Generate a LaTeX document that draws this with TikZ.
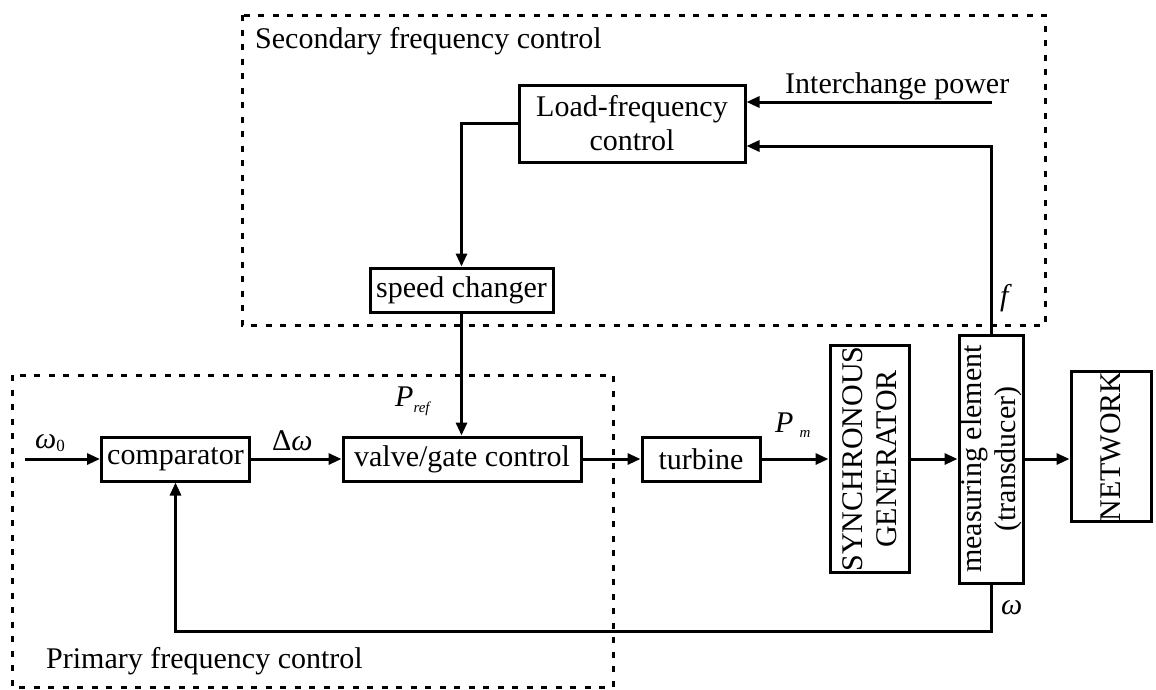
\documentclass[tikz,border=0pt]{standalone}
\usepackage{fontspec}
\setmainfont{Liberation Serif}
\usetikzlibrary{arrows.meta}
\begin{document}
\begin{tikzpicture}[x=1pt,y=-1pt,
  every node/.style={font=\fontsize{30}{34}\selectfont},
  blk/.style={draw,line width=3pt,inner sep=0pt,align=center},
  wire/.style={line width=3pt},
  flow/.style={wire,-{Triangle[length=13pt,width=11pt]}},
  region/.style={line width=3pt,dash pattern=on 6pt off 8.5pt},
  lbl/.style={inner sep=0pt,anchor=base west},
  sub/.style={font=\fontsize{15}{15}\selectfont\itshape}]
\useasboundingbox (0,0) rectangle (1156,689);

% control regions
\draw[region] (242,15) rectangle (1045,325);
\draw[region] (12,375) rectangle (613,687);

% blocks
\node[blk,minimum width=226pt,minimum height=77pt] (lfc) at (632,123.5) {Load-frequency\\control};
\node[blk,minimum width=183pt,minimum height=44pt] (spd) at (461.5,290) {speed changer};
\node[blk,minimum width=148pt,minimum height=44pt] (cmp) at (175.5,459) {comparator};
\node[blk,minimum width=238pt,minimum height=44pt] (vlv) at (462,459) {valve/gate control};
\node[blk,minimum width=118pt,minimum height=44pt] (trb) at (701,459) {turbine};
% vertical blocks (text turned by 90 degrees: north = left side, south = right side)
\node[blk,rotate=90,minimum width=227pt,minimum height=79pt] (gen) at (869.5,459) {SYNCHRONOUS\\GENERATOR};
\node[blk,rotate=90,minimum width=248pt,minimum height=64pt] (meas) at (991,459) {measuring element\\(transducer)};
\node[blk,rotate=90,minimum width=149pt,minimum height=80pt] (net) at (1111,446.5) {NETWORK};

% free ends
\coordinate (w0) at (25,459);
\coordinate (ip) at (992,102);

% forward path
\draw[flow] (w0) -- (cmp.west);
\draw[flow] (cmp.east) -- (vlv.west);
\draw[flow] (vlv.east) -- (trb.west);
\draw[flow] (trb.east) -- (trb.east -| gen.north);
\draw[flow] (gen.south) -- (gen.south -| meas.north);
\draw[flow] (meas.south) -- (meas.south -| net.north);

% feedback and secondary loop
\draw[flow] (meas.west) -- ++(0,47) -| (cmp.south);
\draw[flow] (meas.east) |- ([yshift=-22.5pt]lfc.east);
\draw[flow] (ip) -- (ip -| lfc.east);
\draw[flow] (lfc.west) -| (spd.north);
\draw[flow] (spd.south) -- (spd.south |- vlv.north);

% labels
\node[lbl] (tsec) at (255,48) {Secondary frequency control};
\node[lbl] (tpri) at (46,668) {Primary frequency control};
\node[lbl] (tip) at (785,93) {Interchange power};
\node[lbl] (tw0) at (35,448) {\textit{ω}\raisebox{-3pt}{\fontsize{17}{17}\selectfont 0}};
\node[lbl] (tdw) at (272,450) {Δ\textit{ω}};
\node[lbl] (tpref) at (395,406) {\textit{P}\raisebox{-6pt}{\fontsize{15}{15}\selectfont\itshape ref}};
\node[lbl] (tpm) at (775,432) {\textit{P}\hspace{6pt}\raisebox{-5pt}{\fontsize{15}{15}\selectfont\itshape m}};
\node[lbl] (tf) at (1000,305) {\textit{f}};
\node[lbl] (tw) at (1001,614) {\textit{ω}};
\end{tikzpicture}
\end{document}
